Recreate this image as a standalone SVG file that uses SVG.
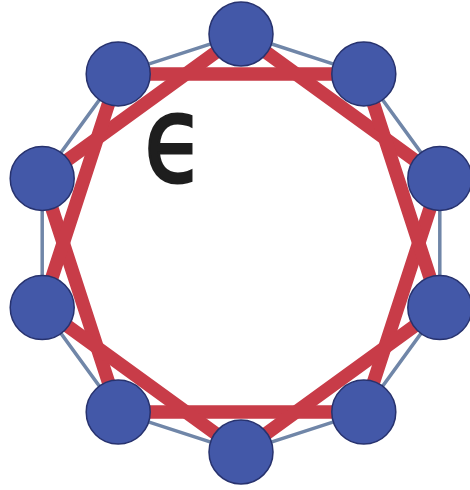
<svg xmlns="http://www.w3.org/2000/svg" width="470" height="490" viewBox="0 0 470 490">
<style>
.thin{stroke:#7086a8;stroke-width:3.5;fill:none}
.red{stroke:#c83c48;stroke-width:13.5;fill:none;stroke-linejoin:miter}
.node{fill:#4358a8;stroke:#27326e;stroke-width:1.5}
.eps{font-family:"DejaVu Sans",sans-serif;font-size:120px;fill:#1e1e1e;stroke:#1e1e1e;stroke-width:3}
</style>
<rect width="470" height="490" fill="#ffffff"/>
<g id="connectors">
<polygon class="thin" points="241,34 363.8,73.9 439.8,178.4 439.8,307.6 363.8,412.1 241,452 118.2,412.1 42.2,307.6 42.2,178.4 118.2,73.9"/>
<polygon class="red" points="241,34 439.8,178.4 363.8,412.1 118.2,412.1 42.2,178.4"/>
<polygon class="red" points="363.8,73.9 439.8,307.6 241,452 42.2,307.6 118.2,73.9"/>
</g>
<g id="n0"><circle class="node" cx="241" cy="34" r="32"/></g>
<g id="n1"><circle class="node" cx="363.8" cy="73.9" r="32"/></g>
<g id="n2"><circle class="node" cx="439.8" cy="178.4" r="32"/></g>
<g id="n3"><circle class="node" cx="439.8" cy="307.6" r="32"/></g>
<g id="n4"><circle class="node" cx="363.8" cy="412.1" r="32"/></g>
<g id="n5"><circle class="node" cx="241" cy="452" r="32"/></g>
<g id="n6"><circle class="node" cx="118.2" cy="412.1" r="32"/></g>
<g id="n7"><circle class="node" cx="42.2" cy="307.6" r="32"/></g>
<g id="n8"><circle class="node" cx="42.2" cy="178.4" r="32"/></g>
<g id="n9"><circle class="node" cx="118.2" cy="73.9" r="32"/></g>
<g id="label"><text class="eps" transform="translate(144,180.5) scale(0.82,1)" x="0" y="0">ϵ</text></g>
</svg>
